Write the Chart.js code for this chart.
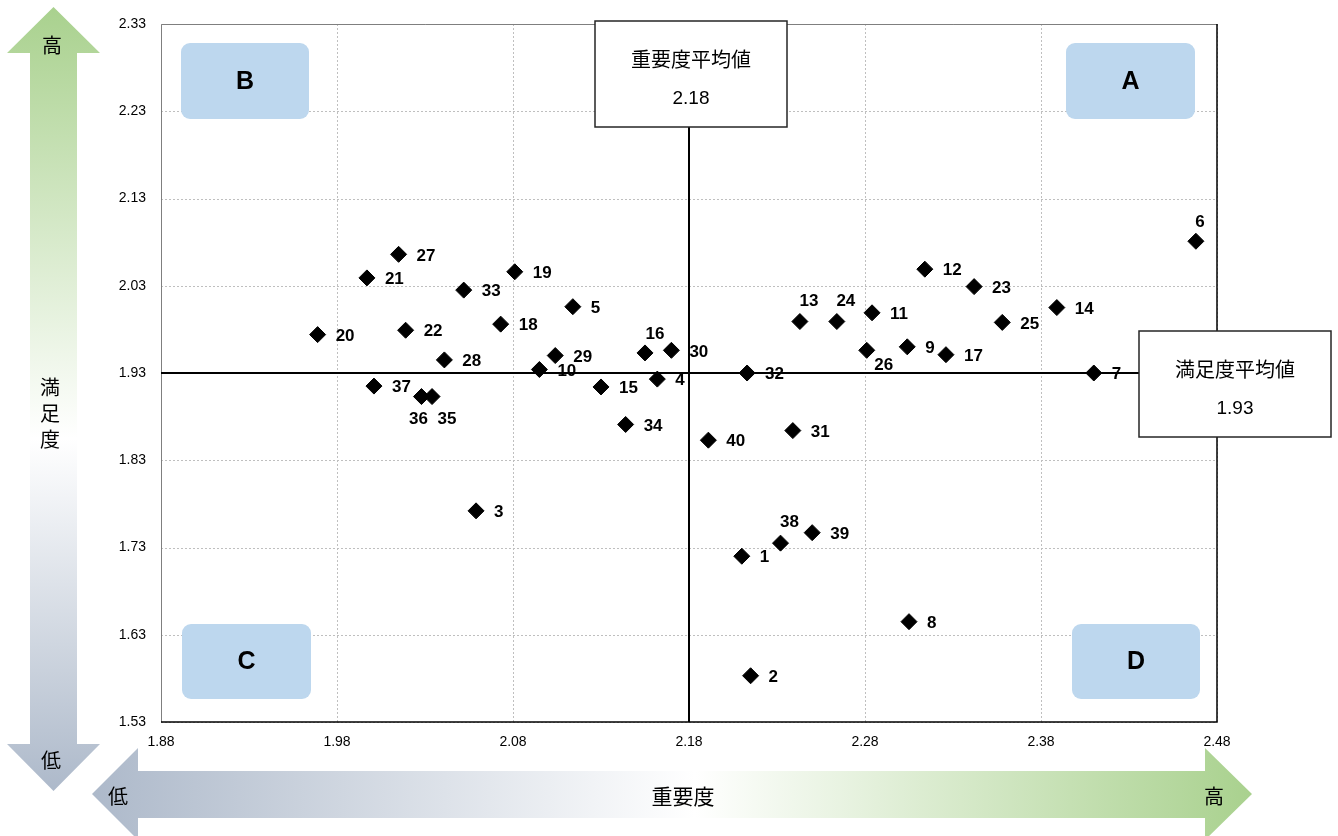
<!DOCTYPE html>
<html lang="ja">
<head>
<meta charset="utf-8">
<title>重要度・満足度 散布図</title>
<script src="https://cdn.jsdelivr.net/npm/chart.js@4.4.1/dist/chart.umd.min.js"></script>
<style>
  html, body { margin: 0; padding: 0; background: #ffffff; }
  #wrap { width: 1338px; height: 836px; position: relative; }
</style>
</head>
<body>
<div id="wrap"><canvas id="c" width="1338" height="836"></canvas></div>
<script>
// 項目番号
const itemIds = [1, 2, 3, 4, 5, 6, 7, 8, 9, 10,
  11, 12, 13, 14, 15, 16, 17, 18, 19, 20,
  21, 22, 23, 24, 25, 26, 27, 28, 29, 30,
  31, 32, 33, 34, 35, 36, 37, 38, 39, 40];

// 重要度（横軸）
const importance = [2.210, 2.215, 2.059, 2.162, 2.114, 2.468, 2.410, 2.305, 2.304, 2.095,
  2.284, 2.314, 2.243, 2.389, 2.130, 2.155, 2.326, 2.073, 2.081, 1.969,
  1.997, 2.019, 2.342, 2.264, 2.358, 2.281, 2.015, 2.041, 2.104, 2.170,
  2.239, 2.213, 2.052, 2.144, 2.034, 2.028, 2.001, 2.232, 2.250, 2.191];

// 満足度（縦軸）
const satisfaction = [1.720, 1.583, 1.772, 1.923, 2.006, 2.081, 1.930, 1.645, 1.960, 1.934,
  1.999, 2.049, 1.989, 2.005, 1.914, 1.953, 1.951, 1.986, 2.046, 1.974,
  2.039, 1.979, 2.029, 1.989, 1.988, 1.956, 2.066, 1.945, 1.950, 1.956,
  1.864, 1.930, 2.025, 1.871, 1.903, 1.903, 1.915, 1.735, 1.747, 1.853];

// 軸目盛
const xTickValues = [1.88, 1.98, 2.08, 2.18, 2.28, 2.38, 2.48];
const yTickValues = [1.53, 1.63, 1.73, 1.83, 1.93, 2.03, 2.13, 2.23, 2.33];

// 平均値
const importanceMean = 2.18;
const satisfactionMean = 1.93;

// 象限名
const quadrantNames = ['A', 'B', 'C', 'D'];

// 番号ラベルの個別配置（点の中心からラベル中心までのずれ, px）
const labelPlacement = {
  6: [4, -19], 13: [9, -20], 24: [9, -20], 16: [10, -19], 38: [9, -21],
  26: [17, 15], 36: [-3, 23], 35: [15, 23]
};

const CJK = '"Noto Sans CJK JP", "Noto Sans", sans-serif';
const LATIN = '"Liberation Sans", Arial, sans-serif';

const points = importance.map((x, i) => ({ x: x, y: satisfaction[i] }));

function roundRectPath(ctx, x, y, w, h, r) {
  ctx.beginPath();
  ctx.moveTo(x + r, y);
  ctx.lineTo(x + w - r, y);
  ctx.arcTo(x + w, y, x + w, y + r, r);
  ctx.lineTo(x + w, y + h - r);
  ctx.arcTo(x + w, y + h, x + w - r, y + h, r);
  ctx.lineTo(x + r, y + h);
  ctx.arcTo(x, y + h, x, y + h - r, r);
  ctx.lineTo(x, y + r);
  ctx.arcTo(x, y, x + r, y, r);
  ctx.closePath();
}

function polygon(ctx, pts) {
  ctx.beginPath();
  ctx.moveTo(pts[0][0], pts[0][1]);
  for (let i = 1; i < pts.length; i++) ctx.lineTo(pts[i][0], pts[i][1]);
  ctx.closePath();
}

const GREEN = '#A9D18E';
const BLUEGRAY = '#ADB9CA';

const decorPlugin = {
  id: 'decor',
  beforeDraw(chart) {
    const ctx = chart.ctx;
    ctx.save();
    // 縦の矢印（満足度）
    let g = ctx.createLinearGradient(0, 7, 0, 791);
    g.addColorStop(0, GREEN);
    g.addColorStop(0.55, '#FFFFFF');
    g.addColorStop(1, BLUEGRAY);
    ctx.fillStyle = g;
    polygon(ctx, [[53.5, 7], [100, 53], [77, 53], [77, 744], [100, 744], [53.5, 791],
      [7, 744], [30, 744], [30, 53], [7, 53]]);
    ctx.fill();

    // 横の矢印（重要度）
    g = ctx.createLinearGradient(92, 0, 1252, 0);
    g.addColorStop(0, BLUEGRAY);
    g.addColorStop(0.52, '#FFFFFF');
    g.addColorStop(1, GREEN);
    ctx.fillStyle = g;
    polygon(ctx, [[92, 794], [138, 748], [138, 771], [1205, 771], [1205, 748], [1252, 794],
      [1205, 840], [1205, 818], [138, 818], [138, 840]]);
    ctx.fill();

    ctx.fillStyle = '#000';
    ctx.textAlign = 'center';
    ctx.textBaseline = 'middle';
    ctx.font = '20px ' + CJK;
    ctx.fillText('高', 52, 45);
    ctx.fillText('低', 51, 760);
    ctx.fillText('満', 50, 387);
    ctx.fillText('足', 50, 413);
    ctx.fillText('度', 50, 439);
    ctx.fillText('低', 118, 796);
    ctx.fillText('高', 1214, 796);
    ctx.font = '21px ' + CJK;
    ctx.fillText('重要度', 683, 796);
    ctx.restore();
  },
  beforeDatasetsDraw(chart) {
    const ctx = chart.ctx;
    const xs = chart.scales.x, ys = chart.scales.y;
    const a = chart.chartArea;
    ctx.save();
    // 補助目盛線
    ctx.strokeStyle = '#BFBFBF';
    ctx.lineWidth = 1;
    ctx.setLineDash([2, 2]);
    xTickValues.forEach(v => {
      const px = Math.round(xs.getPixelForValue(v)) + 0.5;
      ctx.beginPath(); ctx.moveTo(px, a.top); ctx.lineTo(px, a.bottom); ctx.stroke();
    });
    yTickValues.forEach(v => {
      const py = Math.round(ys.getPixelForValue(v)) + 0.5;
      ctx.beginPath(); ctx.moveTo(a.left, py); ctx.lineTo(a.right, py); ctx.stroke();
    });
    ctx.setLineDash([]);

    // 枠線
    ctx.strokeStyle = '#7F7F7F';
    ctx.lineWidth = 1;
    ctx.beginPath();
    ctx.moveTo(a.left + 0.5, a.bottom); ctx.lineTo(a.left + 0.5, a.top + 0.5); ctx.lineTo(a.right, a.top + 0.5);
    ctx.stroke();
    ctx.strokeStyle = '#000';
    ctx.lineWidth = 1.5;
    ctx.beginPath();
    ctx.moveTo(a.right, a.top); ctx.lineTo(a.right, a.bottom); ctx.lineTo(a.left, a.bottom);
    ctx.stroke();

    // 平均値の線
    const mx = xs.getPixelForValue(importanceMean);
    const my = ys.getPixelForValue(satisfactionMean);
    ctx.strokeStyle = '#000';
    ctx.lineWidth = 2;
    ctx.beginPath(); ctx.moveTo(mx, a.top); ctx.lineTo(mx, a.bottom); ctx.stroke();
    ctx.beginPath(); ctx.moveTo(a.left, my); ctx.lineTo(a.right, my); ctx.stroke();

    // 象限ラベル
    const boxes = {
      A: [a.right - 151, a.top + 19, 129, 76],
      B: [a.left + 20, a.top + 19, 128, 76],
      C: [a.left + 21, a.bottom - 98, 129, 75],
      D: [a.right - 145, a.bottom - 98, 128, 75]
    };
    quadrantNames.forEach(n => {
      const b = boxes[n];
      ctx.fillStyle = '#BDD7EE';
      roundRectPath(ctx, b[0], b[1], b[2], b[3], 9);
      ctx.fill();
      ctx.fillStyle = '#000';
      ctx.font = 'bold 25px ' + LATIN;
      ctx.textAlign = 'center';
      ctx.textBaseline = 'middle';
      ctx.fillText(n, b[0] + b[2] / 2, b[1] + b[3] / 2 + 1);
    });
    ctx.restore();
  },
  afterDatasetsDraw(chart) {
    const ctx = chart.ctx;
    const xs = chart.scales.x, ys = chart.scales.y;
    const a = chart.chartArea;
    const meta = chart.getDatasetMeta(0);
    ctx.save();
    // 項目番号
    ctx.fillStyle = '#000';
    ctx.font = 'bold 17px ' + LATIN;
    ctx.textBaseline = 'middle';
    meta.data.forEach((el, i) => {
      const id = itemIds[i];
      const p = labelPlacement[id];
      if (p) {
        ctx.textAlign = 'center';
        ctx.fillText(String(id), el.x + p[0], el.y + p[1]);
      } else {
        ctx.textAlign = 'left';
        ctx.fillText(String(id), el.x + 18, el.y + 1.5);
      }
    });

    // 平均値の吹き出し
    const mx = xs.getPixelForValue(importanceMean);
    const my = ys.getPixelForValue(satisfactionMean);
    const drawBox = (x, y, w, h, title, value) => {
      ctx.fillStyle = '#fff';
      ctx.fillRect(x, y, w, h);
      ctx.strokeStyle = '#262626';
      ctx.lineWidth = 1.5;
      ctx.strokeRect(x, y, w, h);
      ctx.fillStyle = '#000';
      ctx.textAlign = 'center';
      ctx.textBaseline = 'middle';
      ctx.font = '20px ' + CJK;
      ctx.fillText(title, x + w / 2, y + 38);
      ctx.font = '19px ' + LATIN;
      ctx.fillText(value, x + w / 2, y + 78);
    };
    drawBox(mx - 94, a.top - 3, 192, 106, '重要度平均値', importanceMean.toFixed(2));
    drawBox(a.right - 78, my - 42, 192, 106, '満足度平均値', satisfactionMean.toFixed(2));
    ctx.restore();
  }
};

new Chart(document.getElementById('c'), {
  type: 'scatter',
  data: {
    datasets: [{
      data: points,
      pointStyle: 'rectRot',
      pointRadius: 8,
      pointHoverRadius: 8,
      pointBackgroundColor: '#000',
      pointBorderColor: '#000',
      pointBorderWidth: 1
    }]
  },
  options: {
    responsive: false,
    animation: false,
    events: [],
    layout: { padding: { left: 100, top: 24, right: 121, bottom: 0 } },
    plugins: { legend: { display: false }, tooltip: { enabled: false } },
    scales: {
      x: {
        type: 'linear',
        min: xTickValues[0],
        max: xTickValues[xTickValues.length - 1],
        grid: { display: false, drawTicks: false },
        border: { display: false },
        afterBuildTicks: s => { s.ticks = xTickValues.map(v => ({ value: v })); },
        afterFit: s => { s.height = 114; },
        ticks: {
          padding: 12,
          maxRotation: 0,
          autoSkip: false,
          color: '#000',
          font: { family: LATIN, size: 14 },
          callback: v => Number(v).toFixed(2)
        }
      },
      y: {
        type: 'linear',
        min: yTickValues[0],
        max: yTickValues[yTickValues.length - 1],
        grid: { display: false, drawTicks: false },
        border: { display: false },
        afterBuildTicks: s => { s.ticks = yTickValues.map(v => ({ value: v })); },
        afterFit: s => { s.width = 61; },
        ticks: {
          padding: 15,
          autoSkip: false,
          color: '#000',
          font: { family: LATIN, size: 14 },
          callback: v => Number(v).toFixed(2)
        }
      }
    }
  },
  plugins: [decorPlugin]
});
</script>
</body>
</html>
